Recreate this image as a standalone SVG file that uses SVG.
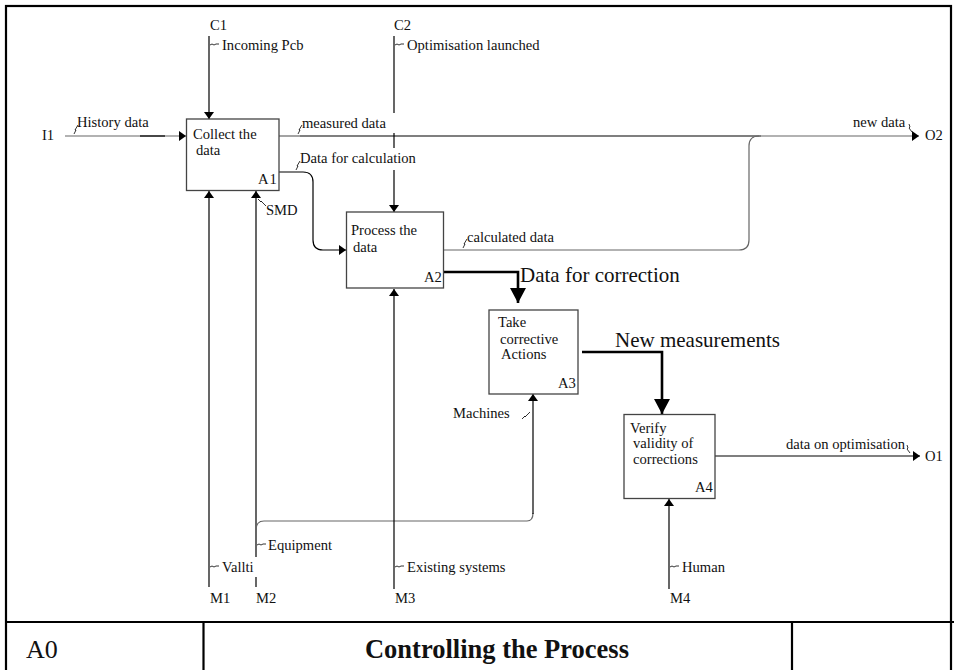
<svg xmlns="http://www.w3.org/2000/svg" width="954" height="670" viewBox="0 0 954 670">
  <style>
    .t { font-family: "Liberation Serif", "Times New Roman", serif; font-size: 14.6px; fill: #111; }
    .big { font-size: 21px; }
    .box { fill: #fff; stroke: #444; stroke-width: 1.3; }
    .ln { fill: none; stroke: #000; stroke-width: 1.2; }
    .gr { stroke: #666; }
    .thick { stroke-width: 2.6; }
    .sq { fill: none; stroke: #000; stroke-width: 0.8; }
    .frame { fill: none; stroke: #000; stroke-width: 2.2; }
  </style>
  <defs>
    <marker id="ah" markerUnits="userSpaceOnUse" viewBox="0 0 7 10" refX="7" refY="5" markerWidth="7" markerHeight="10" orient="auto">
      <path d="M0,0 L7,5 L0,10 Z" fill="#000"/>
    </marker>
    <marker id="ahBig" markerUnits="userSpaceOnUse" viewBox="0 0 15 16" refX="15" refY="8" markerWidth="15" markerHeight="16" orient="auto">
      <path d="M0,0 L15,8 L0,16 Z" fill="#000"/>
    </marker>
  </defs>

  <rect width="954" height="670" fill="#fff"/>

  <!-- sheet frame and title block -->
  <g id="frame">
    <rect class="frame" x="6" y="6" width="945" height="680"/>
    <line class="frame" x1="6" y1="622" x2="954" y2="622"/>
    <line class="frame" x1="203.5" y1="622" x2="203.5" y2="670"/>
    <line class="frame" x1="792" y1="622" x2="792" y2="670"/>
    <text class="t" x="26" y="658" style="font-size:26px">A0</text>
    <text class="t" x="497" y="658" text-anchor="middle" style="font-size:26.5px;font-weight:bold">Controlling the Process</text>
  </g>

  <!-- connectors -->
  <g id="connectors">
    <!-- C1 -->
    <path class="ln" d="M209,36 V119" marker-end="url(#ah)"/>
    <!-- I1 -->
    <path class="ln gr" d="M65,136 H186" marker-end="url(#ah)"/>
    <path class="ln" d="M140,136 H165" stroke-width="1.8"/>
    <!-- M1 -->
    <path class="ln" d="M209,587 V191" marker-end="url(#ah)"/>
    <!-- M2 -->
    <path class="ln" d="M256,587 V577"/>
    <path class="ln" d="M256,557 V191" marker-end="url(#ah)"/>
    <path class="ln gr" d="M256,530 Q256,521 264,521 H527 Q533,521 533,513"/>
    <path class="ln" d="M533,514 V394" marker-end="url(#ah)"/>
    <!-- C2 -->
    <path class="ln" d="M394,36 V113"/>
    <path class="ln" d="M394,133 V148"/>
    <path class="ln" d="M394,170 V212" marker-end="url(#ah)"/>
    <!-- M3 -->
    <path class="ln" d="M394,589 V289" marker-end="url(#ah)"/>
    <!-- M4 -->
    <path class="ln" d="M669,589 V499" marker-end="url(#ah)"/>
    <!-- A1 to A2 -->
    <path class="ln" d="M279,172 H303 Q313,172 313,182 V240 Q313,250 323,250 H346" marker-end="url(#ah)"/>
    <!-- A1 to O2 -->
    <path class="ln gr" d="M279,136 H300"/>
    <path class="ln" d="M300,136 H761" stroke-width="2.4"/>
    <path class="ln gr" d="M761,136 H919" marker-end="url(#ah)"/>
    <!-- A2 to O2 -->
    <path class="ln gr" d="M444,250 H739 Q749,250 749,240 V146 Q749,136 759,136"/>
    <!-- A2 to A3 -->
    <path class="ln thick" d="M442,272 H518 V303" marker-end="url(#ahBig)"/>
    <!-- A3 to A4 -->
    <path class="ln thick" d="M582,352 H662 V414" marker-end="url(#ahBig)"/>
    <!-- A4 to O1 -->
    <path class="ln" d="M715,456 H920" marker-end="url(#ah)"/>

    <!-- label ties -->
    <path class="sq" d="M210,45 l2,-1 l2,1 l2,-1 l3,0"/>
    <path class="sq" d="M74,134 l2,-4 l-1,0 l3,-5"/>
    <path class="sq" d="M298,134 l2,-4 l-1,0 l3,-5"/>
    <path class="sq" d="M296,170 l2,-4 l-1,0 l3,-5"/>
    <path class="sq" d="M395,45 l2,-1 l2,1 l2,-1 l3,0"/>
    <path class="sq" d="M258,199 l3,3 l0,-1 l5,5"/>
    <path class="sq" d="M463,248 l2,-4 l-1,0 l3,-5"/>
    <path class="sq" d="M522,419 l3,-3 l0,1 l5,-5"/>
    <path class="sq" d="M909,124 l1,3 l-1,1 l3,4"/>
    <path class="sq" d="M907,445 l1,3 l-1,1 l3,4"/>
    <path class="sq" d="M210,567 l2,-1 l2,1 l2,-1 l3,0"/>
    <path class="sq" d="M257,545 l2,-1 l2,1 l2,-1 l3,0"/>
    <path class="sq" d="M395,567 l2,-1 l2,1 l2,-1 l3,0"/>
    <path class="sq" d="M670,567 l2,-1 l2,1 l2,-1 l3,0"/>

    <!-- arrow labels -->
    <text class="t" x="210" y="30">C1</text>
    <text class="t" x="222" y="50">Incoming Pcb</text>
    <text class="t" x="42" y="140">I1</text>
    <text class="t" x="77" y="127">History data</text>
    <text class="t" x="302" y="128">measured data</text>
    <text class="t" x="300" y="163">Data for calculation</text>
    <text class="t" x="394" y="30">C2</text>
    <text class="t" x="407" y="50">Optimisation launched</text>
    <text class="t" x="853" y="127">new data</text>
    <text class="t" x="925" y="140">O2</text>
    <text class="t" x="266" y="215">SMD</text>
    <text class="t" x="467" y="242">calculated data</text>
    <text class="t big" x="520" y="282">Data for correction</text>
    <text class="t big" x="615" y="347">New measurements</text>
    <text class="t" x="453" y="418">Machines</text>
    <text class="t" x="786" y="449">data on optimisation</text>
    <text class="t" x="925" y="461">O1</text>
    <text class="t" x="268" y="550">Equipment</text>
    <text class="t" x="222" y="572">Vallti</text>
    <text class="t" x="407" y="572">Existing systems</text>
    <text class="t" x="682" y="572">Human</text>
    <text class="t" x="210" y="603">M1</text>
    <text class="t" x="256" y="603">M2</text>
    <text class="t" x="395" y="603">M3</text>
    <text class="t" x="670" y="603">M4</text>
  </g>

  <!-- activities -->
  <g id="A1">
    <rect class="box" x="186.5" y="119" width="92.5" height="71.5"/>
    <text class="t" x="193" y="139">Collect the</text>
    <text class="t" x="196" y="155">data</text>
    <text class="t" x="258" y="184" letter-spacing="1">A1</text>
  </g>
  <g id="A2">
    <rect class="box" x="346.5" y="212" width="97" height="76"/>
    <text class="t" x="351" y="235">Process the</text>
    <text class="t" x="353" y="252">data</text>
    <text class="t" x="424" y="282">A2</text>
  </g>
  <g id="A3">
    <rect class="box" x="489" y="310" width="89" height="84"/>
    <text class="t" x="498" y="327">Take</text>
    <text class="t" x="500" y="344">corrective</text>
    <text class="t" x="501" y="359">Actions</text>
    <text class="t" x="558" y="388">A3</text>
  </g>
  <g id="A4">
    <rect class="box" x="624" y="414.5" width="91" height="84"/>
    <text class="t" x="630" y="433">Verify</text>
    <text class="t" x="633" y="448">validity of</text>
    <text class="t" x="633" y="464">corrections</text>
    <text class="t" x="695" y="492">A4</text>
  </g>
</svg>
